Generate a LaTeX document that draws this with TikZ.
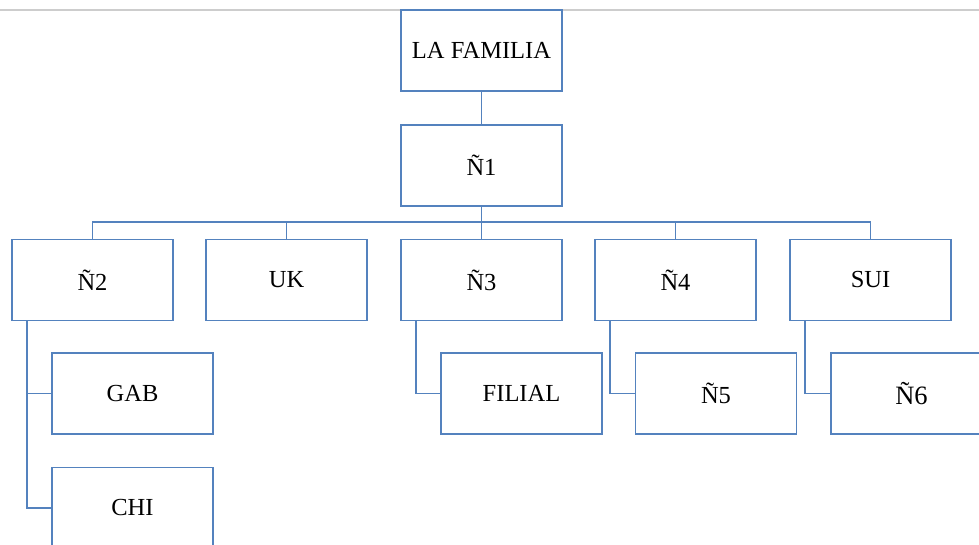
\documentclass[tikz,border=0pt]{standalone}
\usepackage{fontspec}
\setmainfont{Liberation Serif}
\definecolor{boxblue}{RGB}{84,130,190}
\definecolor{rulegrey}{RGB}{205,205,205}
\tikzset{
  orgbox/.style={draw=boxblue, line width=1.8pt, fill=white, rectangle, inner sep=0pt,
    minimum width=161pt, minimum height=81pt, font=\fontsize{24.5}{28}\selectfont},
  link/.style={draw=boxblue, line width=1.8pt}
}
\begin{document}
\begin{tikzpicture}[x=1pt,y=-1pt]
\useasboundingbox (0,0) rectangle (979,545);
\clip (0,0) rectangle (979,545);
\coordinate (ruleL) at (0,10);
\coordinate (ruleR) at (979,10);
\draw[rulegrey, line width=1.2pt] (ruleL) -- (ruleR);

\node[orgbox] (fam) at (481.5,50.5) {LA FAMILIA};
\node[orgbox] (n1) at (481.5,165.5) {Ñ1};

\node[orgbox] (n2) at (92.5,280) {Ñ2};
\node[orgbox] (uk) at (286.5,280) {UK};
\node[orgbox] (n3) at (481.5,280) {Ñ3};
\node[orgbox] (n4) at (675.5,280) {Ñ4};
\node[orgbox] (sui) at (870.5,280) {SUI};

\node[orgbox] (gab) at (132.5,393.5) {GAB};
\node[orgbox] (chi) at (132.5,508) {CHI};
\node[orgbox] (filial) at (521.5,393.5) {FILIAL};
\node[orgbox] (n5) at (716,393.5) {Ñ5};
\node[orgbox, font=\fontsize{26.5}{30}\selectfont] (n6) at (911.5,393.5) {Ñ6};

\coordinate (bus) at (0,222);

\draw[link] (fam.south) -- (n1.north);
\draw[link] (n1.south) -- (n3.north);
\draw[link] (n2.north) -- (n2.north |- bus) -- (sui.north |- bus) -- (sui.north);
\draw[link] (uk.north) -- (uk.north |- bus);
\draw[link] (n4.north) -- (n4.north |- bus);

\draw[link] ([xshift=16pt]n2.south west) |- (gab.west);
\draw[link] ([xshift=16pt]n2.south west) |- (chi.west);
\draw[link] ([xshift=16pt]n3.south west) |- (filial.west);
\draw[link] ([xshift=16pt]n4.south west) |- (n5.west);
\draw[link] ([xshift=16pt]sui.south west) |- (n6.west);
\end{tikzpicture}
\end{document}
